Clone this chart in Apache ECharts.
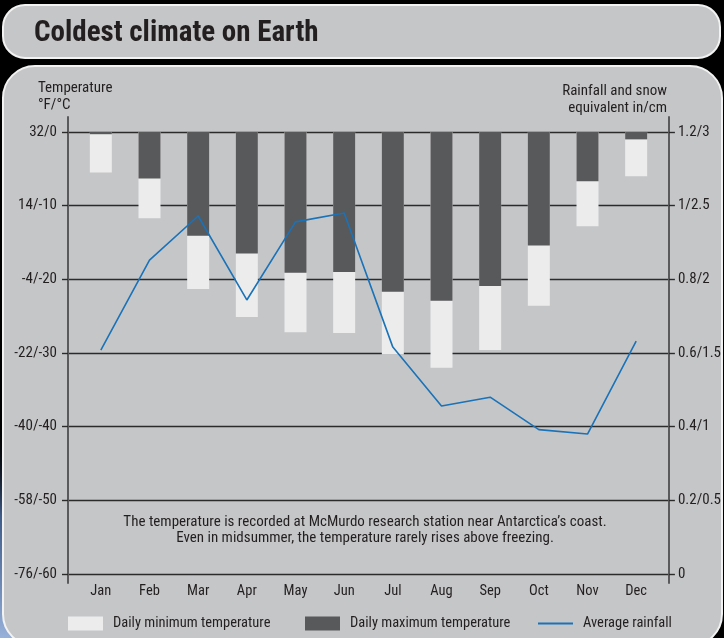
<!DOCTYPE html>
<html>
<head>
  <meta charset="utf-8" />
  <title>Coldest climate on Earth</title>
  <script src="https://cdn.jsdelivr.net/npm/echarts@6/dist/echarts.min.js"></script>
  <style>
    html, body { margin: 0; padding: 0; background: #000; }
  </style>
</head>
<body>
<div id="main" style="width:724px;height:638px;"></div>
<script type="text/javascript">
  // data (temperatures in °C, rainfall in cm)
  var months = ['Jan', 'Feb', 'Mar', 'Apr', 'May', 'Jun', 'Jul', 'Aug', 'Sep', 'Oct', 'Nov', 'Dec'];
  var minTemp = [-5.5, -11.7, -21.3, -25.1, -27.2, -27.3, -30.2, -32.0, -29.6, -23.6, -12.8, -6.0];
  var maxTemp = [-0.3, -6.3, -14.1, -16.5, -19.1, -19.0, -21.7, -22.9, -20.9, -15.4, -6.7, -1.0];
  var rainfall = [1.52, 2.13, 2.43, 1.86, 2.39, 2.45, 1.54, 1.14, 1.20, 0.98, 0.95, 1.58];
  var tempTicks = {'0': '32/0', '-10': '14/-10', '-20': '-4/-20', '-30': '-22/-30', '-40': '-40/-40', '-50': '-58/-50', '-60': '-76/-60'};
  var rainTicks = {'0': '0', '0.5': '0.2/0.5', '1': '0.4/1', '1.5': '0.6/1.5', '2': '0.8/2', '2.5': '1/2.5', '3': '1.2/3'};

  var FONT = "'Roboto Condensed', 'DejaVu Sans Condensed', sans-serif";
  var INK = '#231f20';
  var gridLine = { show: true, lineStyle: { color: '#2b2b2b', width: 1.4 } };
  var tickStyle = { show: true, length: 6, lineStyle: { color: '#2b2b2b', width: 1.4 } };

  // one small legend per item so each sits where the original has it
  function legendAt(left, item) {
    return {
      left: left, top: 611,
      itemWidth: 35, itemHeight: 14,
      textStyle: { fontSize: 14.5, color: INK, fontFamily: FONT, padding: [0, 0, 0, 5] },
      data: [item]
    };
  }

  var myChart = echarts.init(document.getElementById('main'));
  var option = {
    backgroundColor: '#000',
    animation: false,
    textStyle: { fontFamily: FONT, color: INK },
    graphic: [
      {
        type: 'circle', z: -20, shape: { cx: 0, cy: 660, r: 240 },
        style: {
          fill: new echarts.graphic.RadialGradient(0.5, 0.5, 0.5, [
            { offset: 0, color: 'rgba(170,195,235,1)' },
            { offset: 0.6, color: 'rgba(80,115,170,0.8)' },
            { offset: 1, color: 'rgba(0,0,0,0)' }
          ])
        }
      },
      {
        type: 'rect', z: -10, shape: { x: 3, y: 5, width: 717, height: 53, r: 22 },
        style: { fill: '#c5c6c8', stroke: '#f2f2f2', lineWidth: 2 }
      },
      {
        type: 'text', z: -5, x: 34, y: 34,
        style: { text: 'Coldest climate on Earth', fill: INK, font: 'bold 29px ' + FONT, verticalAlign: 'middle' }
      },
      {
        type: 'rect', z: -10, shape: { x: 3, y: 66, width: 719, height: 580, r: 32 },
        style: { fill: '#c5c6c8', stroke: '#f2f2f2', lineWidth: 2 }
      },
      {
        type: 'text', z: -5, x: 38, y: 80,
        style: { text: 'Temperature\n°F/°C', fill: INK, font: '15px ' + FONT, lineHeight: 17 }
      },
      {
        type: 'text', z: -5, x: 667, y: 83,
        style: { text: 'Rainfall and snow\nequivalent in/cm', fill: INK, font: '15px ' + FONT, lineHeight: 17, align: 'right' }
      },
      {
        type: 'text', z: -5, x: 365, y: 514,
        style: {
          text: 'The temperature is recorded at McMurdo research station near Antarctica\u2019s coast.\nEven in midsummer, the temperature rarely rises above freezing.',
          fill: INK, font: '15px ' + FONT, lineHeight: 16, align: 'center'
        }
      }
    ],
    legend: [
      legendAt(63, { name: 'Daily minimum temperature', icon: 'rect' }),
      legendAt(300, { name: 'Daily maximum temperature', icon: 'rect' }),
      legendAt(532, { name: 'Average rainfall', itemStyle: { opacity: 0 } })
    ],
    grid: [
      { left: 68, right: 55, top: 132, bottom: 64 },
      { left: 76.5, right: 63.5, top: 132, bottom: 64 },
      { left: 68, right: 55, top: 117, bottom: 55 }
    ],
    xAxis: [
      { gridIndex: 0, type: 'value', show: false },
      {
        gridIndex: 1, type: 'category', data: months,
        axisLine: { show: false }, axisTick: { show: false },
        axisLabel: { color: INK, fontSize: 14.5, margin: 10 }
      },
      { gridIndex: 2, type: 'value', show: false }
    ],
    yAxis: [
      {
        gridIndex: 0, type: 'value', min: -60, max: 0, interval: 10, position: 'left',
        axisLine: { show: false },
        axisTick: tickStyle,
        axisLabel: { color: INK, fontSize: 15, margin: 11, formatter: function (v) { return tempTicks[String(v)]; } },
        splitLine: gridLine
      },
      {
        gridIndex: 0, type: 'value', min: 0, max: 3, interval: 0.5, position: 'right',
        axisLine: { show: false },
        axisTick: tickStyle,
        axisLabel: { color: INK, fontSize: 15, margin: 9, formatter: function (v) { return rainTicks[String(v)]; } },
        splitLine: { show: false }
      },
      { gridIndex: 1, type: 'value', min: -60, max: 0, show: false },
      { gridIndex: 1, type: 'value', min: 0, max: 3, show: false, position: 'right' },
      {
        gridIndex: 2, type: 'value', min: 0, max: 1, position: 'left',
        axisLine: { show: true, lineStyle: { color: '#5a5a5c', width: 2 } },
        axisTick: { show: false }, axisLabel: { show: false }, splitLine: { show: false }
      },
      {
        gridIndex: 2, type: 'value', min: 0, max: 1, position: 'right',
        axisLine: { show: true, lineStyle: { color: '#5a5a5c', width: 2 } },
        axisTick: { show: false }, axisLabel: { show: false }, splitLine: { show: false }
      }
    ],
    series: [
      {
        name: 'Daily minimum temperature', type: 'bar',
        xAxisIndex: 1, yAxisIndex: 2,
        barWidth: 22, barGap: '-100%',
        itemStyle: { color: '#ebeceb' },
        data: minTemp
      },
      {
        name: 'Daily maximum temperature', type: 'bar',
        xAxisIndex: 1, yAxisIndex: 2,
        barWidth: 22, barGap: '-100%',
        itemStyle: { color: '#58595b' },
        data: maxTemp
      },
      {
        name: 'Average rainfall', type: 'line',
        xAxisIndex: 1, yAxisIndex: 3,
        symbol: 'none', z: 5,
        lineStyle: { color: '#1a72b8', width: 1.6 },
        itemStyle: { color: '#1a72b8' },
        data: rainfall
      }
    ]
  };
  myChart.setOption(option);
</script>
</body>
</html>
